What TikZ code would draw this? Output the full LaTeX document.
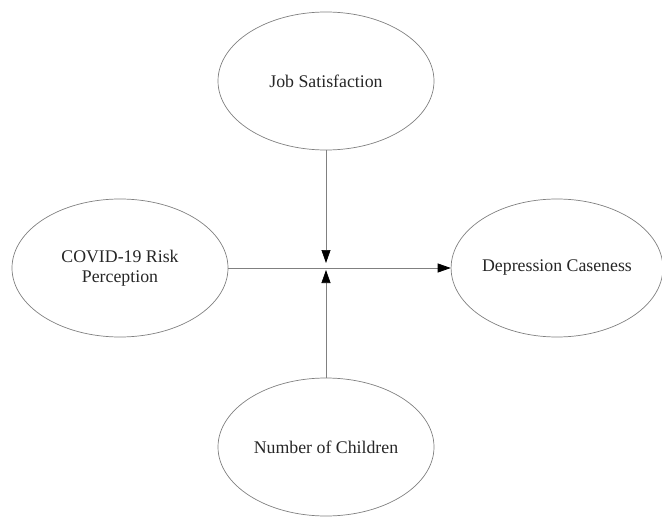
\documentclass[tikz,border=0pt]{standalone}
\usepackage{fontspec}
\setmainfont{Liberation Serif}
\usetikzlibrary{arrows.meta,shapes.geometric}
\definecolor{linegray}{HTML}{808080}
\begin{document}
\begin{tikzpicture}[x=1pt,y=-1pt,
  var/.style={draw=linegray,line width=0.7pt,ellipse,inner sep=0pt,minimum width=216pt,minimum height=138pt,align=center,font=\fontsize{17.8}{20}\selectfont,text=black!85},
  conn/.style={draw=linegray,line width=0.7pt,-{Triangle[length=13pt,width=9pt,color=black,fill=black]}}]
\useasboundingbox (0,0) rectangle (662,519);
\node[var] (job) at (326,81) {Job Satisfaction};
\node[var] (covid) at (120,268) {COVID-19 Risk\\Perception};
\node[var,minimum width=210pt] (dep) at (557,268) {Depression Caseness};
\node[var] (kids) at (326,447) {Number of Children};
\coordinate (m1) at (326,263);
\coordinate (m2) at (326,270);
\draw[conn] (covid.east) -- (dep.west);
\draw[conn] (job.south) -- (m1);
\draw[conn] (kids.north) -- (m2);
\end{tikzpicture}
\end{document}
